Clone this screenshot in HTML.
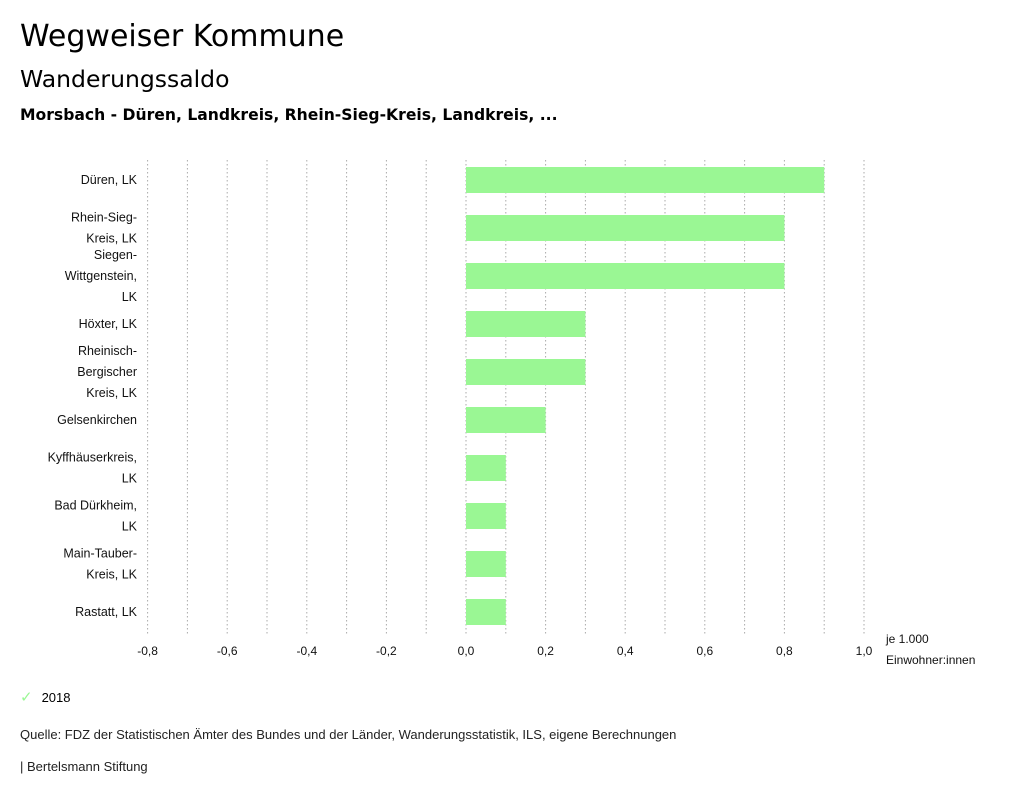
<!DOCTYPE html>
<html><head><meta charset="utf-8">
<style>
body{margin:0;background:#fff;font-family:"Liberation Sans","DejaVu Sans",sans-serif;color:#000;}
#wrap{position:relative;width:1024px;height:799px;overflow:hidden;}
.t{position:absolute;white-space:nowrap;}
.dv{font-family:"DejaVu Sans","Liberation Sans",sans-serif;}
</style></head><body>
<div id="wrap">
<div class="t dv" style="left:20px;top:19px;font-size:30px;">Wegweiser Kommune</div>
<div class="t dv" style="left:20px;top:65px;font-size:23.5px;">Wanderungssaldo</div>
<div class="t dv" style="left:20px;top:106px;font-size:15.6px;font-weight:bold;">Morsbach - Düren, Landkreis, Rhein-Sieg-Kreis, Landkreis, ...</div>
<svg id="chart" width="1024" height="799" style="position:absolute;left:0;top:0;font-family:'Liberation Sans',sans-serif;"></svg>
<div class="t" style="left:20px;top:688px;font-size:13px;"><span style="color:#9af794;font-size:15px;">✓</span><span style="margin-left:9px;">2018</span></div>
<div class="t" style="left:20px;top:727px;font-size:13px;color:#222;">Quelle: FDZ der Statistischen Ämter des Bundes und der Länder, Wanderungsstatistik, ILS, eigene Berechnungen</div>
<div class="t" style="left:20px;top:759px;font-size:13px;color:#222;">| Bertelsmann Stiftung</div>
</div>
<script>
const categories=[["Düren, LK"],["Rhein-Sieg-","Kreis, LK"],["Siegen-","Wittgenstein,","LK"],["Höxter, LK"],["Rheinisch-","Bergischer","Kreis, LK"],["Gelsenkirchen"],["Kyffhäuserkreis,","LK"],["Bad Dürkheim,","LK"],["Main-Tauber-","Kreis, LK"],["Rastatt, LK"]];
const values2018=[0.9,0.8,0.8,0.3,0.3,0.2,0.1,0.1,0.1,0.1];
const tickValues=[-0.8,-0.6,-0.4,-0.2,0,0.2,0.4,0.6,0.8,1.0];
const tickLabels=["-0,8","-0,6","-0,4","-0,2","0,0","0,2","0,4","0,6","0,8","1,0"];
const gridValues=[-0.8,-0.7,-0.6,-0.5,-0.4,-0.3,-0.2,-0.1,0,0.1,0.2,0.3,0.4,0.5,0.6,0.7,0.8,0.9,1.0];
const svg=document.getElementById('chart');const NS='http://www.w3.org/2000/svg';
const x=v=>466+(v-0)*398;
const rowY=i=>167+i*48;
function mk(t,a){const e=document.createElementNS(NS,t);for(const k in a)e.setAttribute(k,a[k]);svg.appendChild(e);return e;}
gridValues.forEach(g=>{const l=mk('line',{x1:x(g),x2:x(g),y1:160,y2:636,stroke:'#aaa','stroke-dasharray':'1.5,2.5','stroke-width':1});

});
tickValues.forEach((v,i)=>{const t=mk('text',{x:x(v),y:655,'text-anchor':'middle','font-size':12,fill:'#111'});t.textContent=tickLabels[i];

});
const u1=mk('text',{x:886,y:643,'font-size':12,fill:'#111'});u1.textContent='je 1.000';


const u2=mk('text',{x:886,y:664,'font-size':12,fill:'#111'});u2.textContent='Einwohner:innen';


values2018.forEach((v,i)=>{const y=rowY(i);
const r=mk('rect',{x:Math.min(x(0),x(v)),y:y,width:Math.abs(x(v)-x(0)),height:26,fill:'#9af794'});


const lines=categories[i];const cy=y+13;const n=lines.length;
lines.forEach((s,j)=>{const t=mk('text',{x:137,y:cy+4+(j-(n-1)/2)*21,'text-anchor':'end','font-size':12.5,fill:'#111'});t.textContent=s;

});
});
</script>
</body></html>
